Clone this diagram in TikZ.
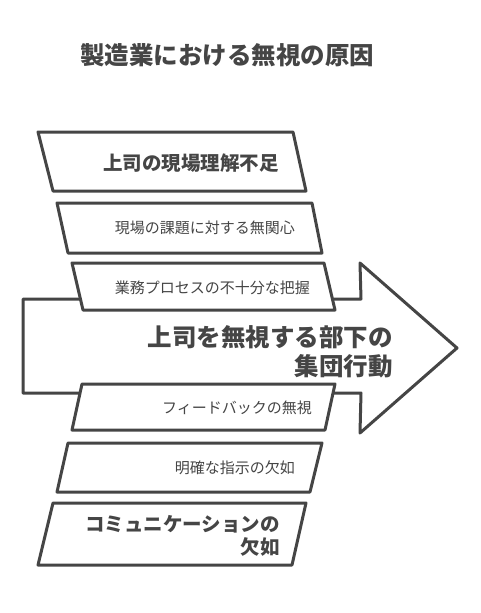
\documentclass[tikz,border=0pt]{standalone}
\usepackage{fontspec}
\newfontfamily\jp{Noto Sans CJK JP}
\definecolor{ink}{HTML}{454545}
\tikzset{
  outline/.style={draw=ink, line width=3pt, line join=round, fill=white},
  big/.style={font=\jp\bfseries\fontsize{24.5}{29}\selectfont, text=ink, inner sep=0pt, align=right},
  mid/.style={font=\jp\bfseries\fontsize{19.5}{23}\selectfont, text=ink, inner sep=0pt, align=right},
  small/.style={font=\jp\fontsize{15}{18}\selectfont, text=ink, inner sep=0pt, align=right}
}
\begin{document}
\begin{tikzpicture}[x=1pt,y=-1pt]
\useasboundingbox (0,0) rectangle (480,613);
% title
\node[big] (title) at (227,55) {製造業における無視の原因};
% arrow
\draw[outline] (23,299) -- (361,299) -- (360,263) -- (457,348) -- (360,433) -- (361,393) -- (23,393) -- cycle;
% boxes
\draw[outline] (38,132) -- (293,132) -- (306,191) -- (53,191) -- cycle;
\draw[outline] (57,203) -- (312,203) -- (322,253) -- (68,253) -- cycle;
\draw[outline] (72,263) -- (324,263) -- (335,310) -- (83,310) -- cycle;
\draw[outline] (82,384) -- (335,384) -- (325,430) -- (72,430) -- cycle;
\draw[outline] (68,443) -- (322,443) -- (310,492) -- (57,492) -- cycle;
\draw[outline] (53,503) -- (306,503) -- (292,565) -- (38,565) -- cycle;
% texts
\node[mid, anchor=east] (t1) at (279,163) {上司の現場理解不足};
\node[small, anchor=east] (t2) at (295,228) {現場の課題に対する無関心};
\node[small, anchor=east] (t3) at (310,288) {業務プロセスの不十分な把握};
\node[big, anchor=east] (main) at (393,352) {上司を無視する部下の\\集団行動};
\node[small, anchor=east] (t4) at (312,408) {フィードバックの無視};
\node[small, anchor=east] (t5) at (295,468) {明確な指示の欠如};
\node[mid, anchor=east] (t6) at (280,536) {コミュニケーションの\\欠如};
\end{tikzpicture}
\end{document}
